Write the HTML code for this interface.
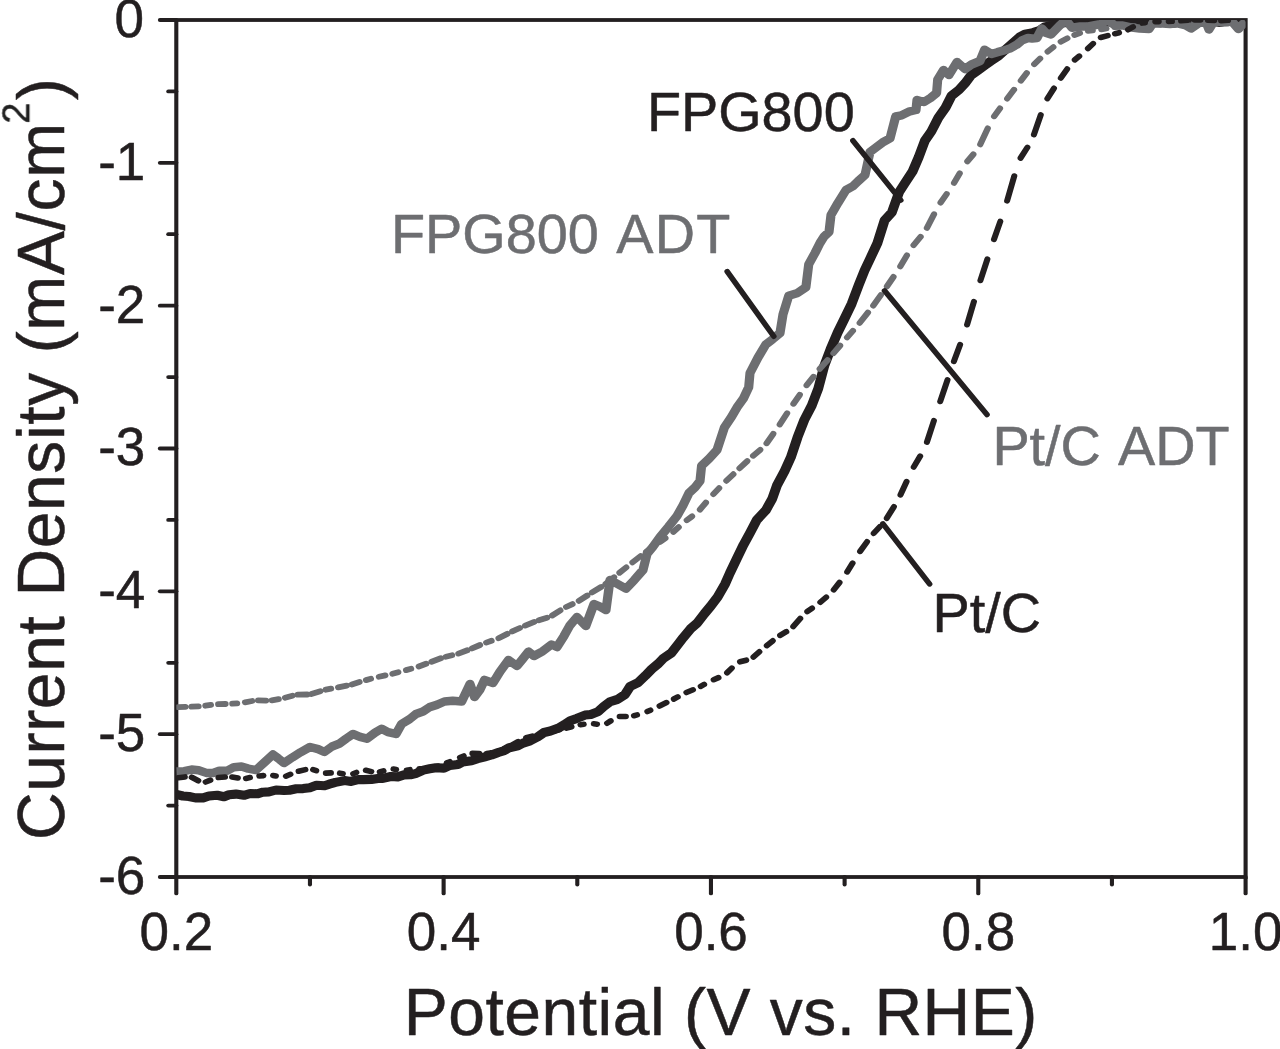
<!DOCTYPE html>
<html lang="en"><head><meta charset="utf-8"><title>ORR polarization curves</title>
<style>html,body{margin:0;padding:0;background:#fff}body{width:1280px;height:1049px;overflow:hidden}</style>
</head><body>
<svg width="1280" height="1049" viewBox="0 0 1280 1049" style="display:block">
<rect width="1280" height="1049" fill="#fff"/>
<defs><clipPath id="pc"><rect x="163.24" y="20.0" width="990.09" height="857.0"/></clipPath><filter id="gs" x="-20%" y="-20%" width="140%" height="140%" color-interpolation-filters="sRGB"><feColorMatrix type="saturate" values="0"/></filter></defs>
<g transform="scale(1.08 1)">
<g fill="none" stroke="#231f20" stroke-width="3.8" stroke-linecap="round">
<rect x="163.24" y="20.0" width="990.09" height="857.0" stroke-linejoin="miter"/>
<path d="M148.06 20.0H163.24"/>
<path d="M155.83 91.4H163.24"/>
<path d="M148.06 162.8H163.24"/>
<path d="M155.83 234.2H163.24"/>
<path d="M148.06 305.7H163.24"/>
<path d="M155.83 377.1H163.24"/>
<path d="M148.06 448.5H163.24"/>
<path d="M155.83 519.9H163.24"/>
<path d="M148.06 591.3H163.24"/>
<path d="M155.83 662.8H163.24"/>
<path d="M148.06 734.2H163.24"/>
<path d="M155.83 805.6H163.24"/>
<path d="M148.06 877.0H163.24"/>
<path d="M163.24 877.0V893.4"/>
<path d="M287.00 877.0V884.6"/>
<path d="M410.76 877.0V893.4"/>
<path d="M534.53 877.0V884.6"/>
<path d="M658.29 877.0V893.4"/>
<path d="M782.05 877.0V884.6"/>
<path d="M905.81 877.0V893.4"/>
<path d="M1029.57 877.0V884.6"/>
<path d="M1153.33 877.0V893.4"/>
</g>
<g clip-path="url(#pc)" fill="none" stroke-linejoin="round">
<path d="M163.24 794.4 L169.31 796.0 L174.96 796.5 L180.90 797.9 L188.07 797.9 L193.45 796.0 L201.12 795.3 L207.38 796.7 L212.00 794.7 L218.42 794.1 L225.88 795.3 L231.67 793.5 L238.26 793.8 L243.34 792.2 L249.01 791.9 L255.59 790.0 L262.99 790.5 L267.92 790.3 L274.29 788.8 L280.65 788.6 L286.84 787.7 L293.01 785.3 L300.43 785.8 L304.78 784.2 L310.60 782.4 L319.05 780.6 L325.09 781.4 L331.54 779.6 L336.40 779.6 L343.83 779.4 L349.96 778.4 L354.46 778.4 L361.91 776.5 L368.32 776.9 L374.09 774.9 L379.93 774.8 L385.57 773.3 L391.88 770.1 L397.80 768.8 L403.60 767.7 L411.05 768.1 L416.51 765.5 L423.96 764.5 L428.31 762.0 L436.56 760.7 L442.25 758.7 L448.99 756.8 L455.12 755.0 L461.31 752.5 L466.73 750.7 L471.56 747.7 L479.51 745.8 L484.32 743.1 L490.82 740.9 L497.88 736.9 L503.74 732.5 L509.66 731.0 L517.12 728.1 L522.52 724.7 L528.06 720.7 L534.03 718.4 L541.69 715.1 L546.95 714.5 L553.88 711.6 L559.03 706.6 L564.85 701.8 L571.85 699.4 L578.72 694.5 L583.36 686.6 L591.04 682.4 L597.54 675.7 L603.45 669.1 L609.69 663.5 L613.91 658.7 L621.60 653.0 L628.35 643.7 L632.58 637.7 L639.31 628.9 L645.49 623.1 L652.30 613.6 L658.24 605.9 L664.55 596.8 L671.47 583.8 L675.80 573.1 L682.11 558.8 L688.48 544.7 L694.66 532.5 L700.72 520.0 L709.09 510.3 L714.99 498.9 L719.33 485.6 L726.52 470.9 L732.26 457.3 L738.45 437.3 L744.73 419.9 L751.63 405.5 L757.67 388.5 L763.32 365.4 L769.10 349.0 L775.62 332.5 L781.32 320.0 L788.55 303.8 L795.12 285.1 L800.50 270.5 L805.97 258.0 L812.40 243.1 L819.06 220.4 L825.80 212.4 L832.42 192.3 L837.64 183.5 L844.85 171.7 L850.61 157.2 L856.34 140.8 L862.38 131.4 L868.87 117.7 L875.56 107.5 L881.07 95.7 L887.92 89.9 L893.54 83.3 L899.22 75.2 L906.10 69.8 L912.68 64.7 L917.37 61.1 L924.41 56.1 L930.60 50.0 L937.88 43.1 L944.21 37.0 L949.04 34.1 L956.49 32.6 L962.43 30.6 L967.34 26.9 L974.02 25.3 L979.39 23.6 L987.24 22.4 L993.07 22.2 L999.80 21.8 L1005.76 21.7 L1011.65 22.0 L1018.00 21.1 L1023.78 21.2 L1028.86 22.2 L1036.22 20.4 L1041.00 21.7 L1047.53 22.1 L1055.23 21.0 L1059.67 20.8 L1065.97 22.2 L1072.18 20.9 L1080.25 20.7 L1084.75 21.3 L1090.57 22.0 L1098.72 20.5 L1103.18 21.1 L1111.11 21.1 L1116.89 22.3 L1123.47 21.4 L1129.94 22.4 L1135.23 20.7 L1141.95 21.1 L1153.33 21.9" stroke="#231f20" stroke-width="9.1" stroke-linecap="butt"/>
<path d="M163.24 771.6 L170.62 771.2 L177.40 769.5 L183.89 770.2 L191.02 772.9 L197.22 773.0 L203.01 770.8 L210.54 770.7 L216.54 767.2 L223.61 766.5 L229.86 768.6 L237.04 770.0 L245.38 761.9 L252.78 754.5 L257.62 758.4 L262.96 763.0 L270.71 757.4 L278.24 752.3 L287.04 747.0 L294.58 749.2 L300.37 752.0 L307.45 746.5 L313.96 743.8 L320.55 738.6 L326.85 734.0 L333.30 736.8 L339.81 738.7 L347.31 732.6 L353.33 728.7 L359.25 732.1 L366.67 734.0 L371.85 724.0 L379.29 719.1 L385.19 714.0 L391.68 711.5 L397.80 707.1 L404.42 704.9 L411.57 701.5 L419.19 700.7 L427.50 701.5 L435.19 684.0 L439.35 697.0 L444.34 689.9 L448.61 680.0 L456.48 683.0 L462.96 671.6 L470.93 660.0 L478.70 666.0 L483.70 659.4 L489.44 651.6 L494.44 656.0 L502.39 651.3 L510.65 644.5 L515.74 647.0 L522.07 636.3 L527.56 625.6 L534.26 617.0 L542.41 626.0 L550.00 604.0 L555.52 606.6 L561.11 610.0 L564.81 580.0 L571.62 583.9 L579.63 588.7 L587.17 580.2 L595.37 570.0 L599.07 554.0 L604.43 547.0 L611.11 537.0 L618.94 526.8 L626.85 516.0 L632.35 505.5 L637.96 493.0 L643.65 487.2 L648.15 481.0 L649.63 465.7 L656.72 458.5 L663.89 450.0 L670.74 427.4 L677.23 417.1 L682.41 407.4 L688.26 398.7 L693.24 387.3 L694.44 373.0 L701.70 357.9 L709.07 344.5 L715.16 339.4 L722.22 333.0 L725.00 314.4 L730.28 295.8 L738.57 292.9 L746.20 287.3 L748.80 264.4 L754.68 252.9 L759.26 243.0 L762.85 236.8 L767.59 232.0 L769.44 215.0 L775.81 203.1 L783.33 190.0 L789.86 186.2 L794.61 181.1 L800.93 175.0 L805.56 152.0 L811.38 147.2 L818.33 141.7 L824.07 138.4 L829.35 116.5 L834.86 115.3 L841.50 111.7 L848.15 110.0 L849.07 100.0 L855.56 102.0 L861.54 98.0 L867.22 93.0 L868.24 79.5 L873.61 70.0 L878.70 75.0 L886.11 62.0 L893.52 69.0 L899.55 64.5 L907.41 61.0 L911.67 49.7 L918.06 54.0 L923.59 52.2 L928.81 50.7 L935.00 48.6 L941.46 44.7 L946.32 40.4 L951.85 38.0 L955.60 38.4 L960.19 37.9 L964.63 28.5 L968.17 32.7 L973.15 34.5 L980.76 26.0 L986.85 20.0 L992.59 27.7 L1000.12 26.4 L1006.52 26.6 L1012.35 25.5 L1019.44 24.0 L1025.46 20.0 L1032.41 25.5 L1039.63 25.5 L1048.00 27.6 L1055.37 28.6 L1063.89 29.0 L1068.06 22.0 L1076.55 23.5 L1083.33 24.0 L1090.34 23.3 L1097.22 25.0 L1102.78 28.5 L1110.19 23.0 L1116.67 22.0 L1119.44 29.5 L1123.15 23.0 L1128.70 21.5 L1134.71 21.1 L1140.74 21.5 L1146.76 29.0 L1150.93 24.0 L1153.70 22.0" stroke="#6d6e71" stroke-width="8.5" stroke-linecap="butt"/>
<path d="M164.95 707.2L171.63 706.9M177.42 706.7L183.79 706.3M190.18 705.7L195.28 704.9M202.08 704.1L208.79 704.0M215.17 703.7L219.51 703.3M226.89 702.3L233.44 701.0M239.05 700.3L246.32 700.6M251.73 700.4L258.01 699.1M263.94 697.7L270.79 695.7M275.74 694.6L284.51 694.5M288.25 694.0L296.59 691.2M301.68 689.7L306.51 688.7M313.13 687.4L321.06 685.6M325.76 684.4L332.87 682.0M338.93 680.1L343.39 678.8M350.88 676.8L356.77 675.4M363.44 673.8L368.74 672.2M376.03 670.1L380.62 668.8M387.77 666.5L394.49 663.8M399.62 661.7L408.10 658.3M412.83 656.7L418.55 655.3M424.47 653.6L432.67 650.3M437.09 648.4L444.48 645.0M450.23 642.6L455.10 640.8M461.65 638.3L469.71 633.9M474.35 631.4L481.32 628.0M486.29 625.6L494.73 621.9M498.94 620.2L506.48 617.7M511.34 615.5L518.82 610.4M524.21 607.0L530.05 604.1M536.02 600.9L543.76 595.5M548.24 592.4L556.53 587.0M560.75 584.0L568.59 577.2M573.61 572.8L579.85 567.4M585.63 562.4L593.08 556.1M598.31 551.8L604.74 546.8M611.14 541.9L616.09 538.1M623.55 531.9L628.39 527.2M635.93 520.2L640.77 516.4M648.11 509.6L653.61 502.6M660.55 494.1L665.86 488.1M672.58 480.8L679.03 474.2M684.75 468.3L691.91 461.1M697.30 455.8L703.91 449.8M709.80 443.3L715.99 433.8M722.00 424.4L728.79 413.2M734.66 403.8L740.52 394.8M746.90 385.3L753.22 376.7M759.00 368.9L766.25 360.1M771.72 353.3L777.84 345.6M784.31 337.5L789.73 330.8M796.03 322.9L803.65 312.5M808.59 305.6L815.61 295.0M821.26 286.4L827.30 276.9M833.64 266.4L839.70 255.4M845.88 245.2L852.40 236.8M858.24 228.0L864.81 214.2M870.90 202.6L876.54 194.0M883.42 182.9L888.59 173.4M895.70 161.4L901.22 154.4M907.66 144.4L914.58 128.3M920.50 116.3L925.88 108.4M932.60 98.7L938.90 89.7M945.22 80.7L950.73 73.0M957.62 64.2L963.07 58.5M970.06 51.6L975.30 47.1M982.18 41.7L988.29 38.3M994.88 35.0L999.92 33.0M1007.48 30.8L1011.77 30.4M1019.74 29.4L1024.45 28.5M1032.04 27.1L1037.01 26.4M1043.95 25.8L1050.47 26.2M1056.95 26.2L1061.40 25.6M1069.39 24.9L1073.65 24.9M1081.15 25.0L1087.46 25.0M1093.59 24.7L1099.71 23.6M1105.55 23.1L1113.08 24.1M1118.87 24.5L1123.27 24.3M1130.74 23.9L1136.83 23.5" stroke="#6d6e71" stroke-width="5.8" stroke-linecap="round"/>
<path d="M165.15 777.8L171.16 776.9M177.50 777.3L183.62 780.7M190.39 782.0L194.81 780.1M202.27 777.5L208.34 777.0M214.85 777.0L220.26 778.0M227.72 778.4L231.49 777.6M240.07 776.0L243.94 775.6M252.81 775.5L255.48 776.0M264.72 776.2L268.96 774.3M276.47 771.2L282.81 769.6M289.86 769.6L292.84 770.7M301.72 773.1L306.41 772.9M314.66 773.2L317.49 773.7M327.00 773.8L329.96 772.5M338.74 770.3L343.83 771.6M351.60 772.0L355.10 770.8M364.27 769.1L366.81 769.5M376.52 770.2L379.49 769.7M388.29 768.8L393.29 768.9M400.69 768.1L405.61 766.2M413.73 762.9L416.45 761.7M425.86 757.5L429.41 756.0M437.40 753.4L443.76 753.6M450.71 753.4L453.96 752.9M462.59 750.9L467.51 748.5M475.10 744.4L479.59 741.7M487.13 737.7L492.77 736.2M499.73 734.3L504.64 733.1M511.89 731.3L517.54 729.9M524.57 728.1L529.22 726.7M537.41 724.7L540.52 724.3M549.80 723.8L552.87 724.2M562.09 723.2L565.47 720.9M573.75 716.5L579.52 716.5M586.99 715.7L589.91 714.9M599.39 711.6L602.23 710.2M610.68 706.0L617.15 702.6M623.91 699.0L627.55 696.9M635.53 692.5L641.69 689.8M648.80 686.3L652.00 684.4M660.79 679.7L665.29 677.6M673.20 672.7L677.59 668.1M685.15 661.8L690.98 660.2M697.63 657.0L703.13 651.8M710.00 645.6L715.53 640.8M722.31 635.4L728.07 631.7M734.48 626.6L740.95 618.5M747.48 611.6L751.88 608.3M759.54 602.2L764.99 597.2M771.94 589.8L777.34 582.5M784.44 571.9L789.42 563.2M796.37 551.4L802.85 541.8M809.00 533.3L814.64 526.7M821.12 518.2L827.65 506.8M833.76 494.9L839.41 481.6M846.05 467.0L852.01 456.2M858.28 442.1L864.72 420.7M870.56 401.5L877.33 379.8M883.25 361.4L889.00 344.7M895.44 324.7L901.81 301.6M907.79 280.5L914.26 259.1M920.37 239.3L926.19 221.5M932.50 200.9L939.15 176.0M944.98 158.0L951.29 147.4M957.35 134.7L963.68 114.9M969.79 98.6L975.92 88.3M982.23 78.0L988.16 69.0M995.14 59.9L999.31 56.1M1007.33 48.5L1012.12 43.6M1019.19 37.5L1025.71 35.6M1032.39 33.7L1036.19 32.7M1044.55 29.7L1049.09 26.9M1057.48 23.1L1060.17 22.7M1069.71 21.6L1072.91 21.6M1082.15 21.4L1085.14 21.3M1093.56 20.8L1099.78 20.3M1106.20 20.0L1111.55 20.0M1118.39 20.1L1124.37 20.4M1130.63 20.6L1137.08 20.3" stroke="#231f20" stroke-width="5.6" stroke-linecap="round"/>
</g>
<g fill="none" stroke="#231f20" stroke-width="5.2" stroke-linecap="round">
<path d="M673.33 271.5L716.48 336.4"/>
<path d="M789.72 140.6L834.07 200.2"/>
<path d="M818.98 290.7L913.89 414.7"/>
<path d="M817.50 523.7L860.74 584.1"/>
</g>
</g>
<g font-family="'Liberation Sans', Arial, Helvetica, sans-serif" fill="#231f20" stroke="#231f20" stroke-width="0.5" stroke-linejoin="round">
<text x="144.0" y="36.8" font-size="53" text-anchor="end">0</text>
<text x="145.3" y="179.6" font-size="53" text-anchor="end">-1</text>
<text x="145.3" y="322.5" font-size="53" text-anchor="end">-2</text>
<text x="145.3" y="465.3" font-size="53" text-anchor="end">-3</text>
<text x="145.3" y="608.1" font-size="53" text-anchor="end">-4</text>
<text x="145.3" y="751.0" font-size="53" text-anchor="end">-5</text>
<text x="145.3" y="893.8" font-size="53" text-anchor="end">-6</text>
<text x="176.3" y="950.2" font-size="53" text-anchor="middle">0.2</text>
<text x="443.6" y="950.2" font-size="53" text-anchor="middle">0.4</text>
<text x="711.0" y="950.2" font-size="53" text-anchor="middle">0.6</text>
<text x="978.3" y="950.2" font-size="53" text-anchor="middle">0.8</text>
<text x="1245.6" y="950.2" font-size="53" text-anchor="middle">1.0</text>
<text x="403.7" y="1034.6" font-size="66" textLength="633.6" lengthAdjust="spacing">Potential (V vs. RHE)</text>
<g transform="translate(64.3 840) rotate(-90)" font-size="66" letter-spacing="0.6215">
<text x="0" y="0">Current Density (mA/cm</text>
<text x="716.3" y="-35.5" font-size="38" filter="url(#gs)">2</text>
<text x="739.72" y="0">)</text>
</g>
<text x="646.9" y="131.2" font-size="55.8">FPG800</text>
<text y="252.6" font-size="55.8" fill="#6d6e71" stroke="#6d6e71"><tspan x="391">FPG800</tspan> <tspan x="616.2" letter-spacing="1.3">ADT</tspan></text>
<text y="464.8" font-size="55.8" fill="#6d6e71" stroke="#6d6e71"><tspan x="992.4">Pt/C</tspan> <tspan x="1118">ADT</tspan></text>
<text x="932.6" y="632.2" font-size="55.8">Pt/C</text>
</g>
</svg>
</body></html>
